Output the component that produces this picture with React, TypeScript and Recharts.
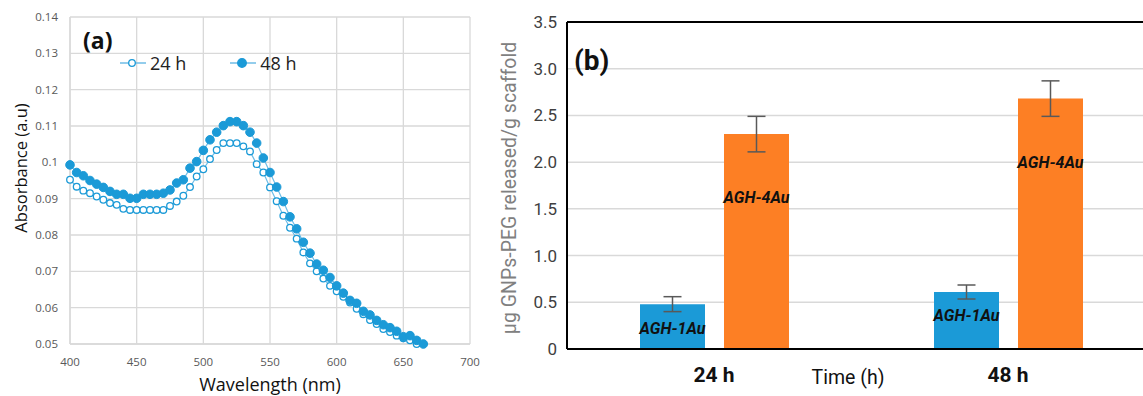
import React from 'react';
import {
  LineChart, Line, BarChart, Bar, XAxis, YAxis, CartesianGrid, Legend,
  ErrorBar, LabelList, ReferenceLine,
} from 'recharts';

// panel (a): UV-vis absorbance
const wavelengths = [
  400, 405, 410, 415, 420, 425, 430, 435, 440, 445,
  450, 455, 460, 465, 470, 475, 480, 485, 490, 495,
  500, 505, 510, 515, 520, 525, 530, 535, 540, 545,
  550, 555, 560, 565, 570, 575, 580, 585, 590, 595,
  600, 605, 610, 615, 620, 625, 630, 635, 640, 645,
  650, 655, 660, 665,
];
const abs24h = [
  0.0952, 0.0933, 0.0922, 0.0915, 0.0906, 0.0897, 0.0888, 0.0883, 0.0872, 0.0869,
  0.0869, 0.0869, 0.0869, 0.0869, 0.0869, 0.0880, 0.0892, 0.0908, 0.0932, 0.0961,
  0.0981, 0.1009, 0.1034, 0.1053, 0.1053, 0.1053, 0.1044, 0.1030, 0.0995, 0.0972,
  0.0931, 0.0893, 0.0853, 0.0820, 0.0790, 0.0752, 0.0722, 0.0700, 0.0680, 0.0660,
  0.0645, 0.0630, 0.0614, 0.0597, 0.0582, 0.0566, 0.0555, 0.0541, 0.0533, 0.0523,
  0.0516, 0.0510, 0.0500, null,
];
const abs48h = [
  0.0993, 0.0972, 0.0963, 0.0950, 0.0940, 0.0931, 0.0920, 0.0912, 0.0912, 0.0901,
  0.0901, 0.0912, 0.0912, 0.0912, 0.0915, 0.0924, 0.0943, 0.0952, 0.0984, 0.1002,
  0.1033, 0.1062, 0.1083, 0.1101, 0.1112, 0.1112, 0.1101, 0.1083, 0.1053, 0.1012,
  0.0972, 0.0932, 0.0892, 0.0850, 0.0817, 0.0780, 0.0750, 0.0720, 0.0703, 0.0683,
  0.0660, 0.0640, 0.0620, 0.0612, 0.0590, 0.0580, 0.0565, 0.0553, 0.0545, 0.0535,
  0.0520, 0.0523, 0.0510, 0.0500,
];
const wlTicks = [400, 450, 500, 550, 600, 650, 700];
const absTicks = [0.05, 0.06, 0.07, 0.08, 0.09, 0.1, 0.11, 0.12, 0.13, 0.14];

// panel (b): release per time point
const times = ['24 h', '48 h'];
const agh1 = [0.48, 0.61];
const agh1Err = [0.08, 0.075];
const agh4 = [2.30, 2.68];
const agh4Err = [0.19, 0.19];
const releaseTicks = [0, 0.5, 1.0, 1.5, 2.0, 2.5, 3.0, 3.5];

const BLUE = '#1b9ad7';
const ORANGE = '#fd7f24';
const GRID = '#d9d9d9';
const SANS = '"Open Sans", "Noto Sans", sans-serif';
const NARROW = 'Roboto, "Liberation Sans", sans-serif';

const spectrum = wavelengths.map((wl, i) => ({ wl, h24: abs24h[i], h48: abs48h[i] }));
const release = times.map((t, i) => ({
  time: t, agh1: agh1[i], err1: agh1Err[i], agh4: agh4[i], err4: agh4Err[i],
}));

const barLabelStyle = { fontFamily: NARROW, fontSize: 16, fontWeight: 700, fontStyle: 'italic' as const, fill: '#111' };

function SpectrumLegend() {
  const items = [
    { name: '24 h', filled: false },
    { name: '48 h', filled: true },
  ];
  return (
    <div style={{ display: 'flex', gap: 44, fontFamily: SANS, fontSize: 18, color: '#222' }}>
      {items.map((it) => (
        <div key={it.name} style={{ display: 'flex', alignItems: 'center' }}>
          <svg width={27} height={12}>
            <line x1={0} y1={6} x2={26} y2={6} stroke="#6fbde6" strokeWidth={1.5} />
            <circle cx={12} cy={6} r={it.filled ? 4.3 : 3.3} fill={it.filled ? BLUE : '#fff'} stroke={BLUE} strokeWidth={1.3} />
          </svg>
          <span style={{ marginLeft: 3 }}>{it.name}</span>
        </div>
      ))}
    </div>
  );
}

export default function App() {
  return (
    <div style={{ position: 'absolute', left: 0, top: 0, width: 1143, height: 396, overflow: 'hidden', background: '#fff' }}>
      <div style={{ position: 'absolute', left: 0, top: 0 }}>
        <LineChart width={480} height={396} data={spectrum} margin={{ top: 17, right: 10, left: 0, bottom: 0 }}>
          <CartesianGrid stroke={GRID} strokeWidth={1.3} />
          <XAxis
            dataKey="wl" type="number" domain={[400, 700]} ticks={wlTicks} height={52}
            axisLine={{ stroke: GRID, strokeWidth: 1.3 }} tickLine={false} tickMargin={8}
            tick={{ fontFamily: SANS, fontSize: 11.5, fill: '#595959' }}
            label={{
              content: () => (
                <text x={270} y={391} textAnchor="middle" fontFamily={SANS} fontSize={18} fill="#111">Wavelength (nm)</text>
              ),
            }}
          />
          <YAxis
            type="number" domain={[0.05, 0.14]} ticks={absTicks} width={70}
            axisLine={{ stroke: GRID, strokeWidth: 1.3 }} tickLine={false} tickMargin={6}
            tickFormatter={(v: number) => String(Number(v.toFixed(2)))}
            tick={{ fontFamily: SANS, fontSize: 11.5, fill: '#595959' }}
            label={{
              content: () => (
                <text x={27} y={168} transform="rotate(-90 27 168)" textAnchor="middle" fontFamily={SANS} fontSize={16.5} fill="#111">Absorbance (a.u)</text>
              ),
            }}
          />
          <Legend layout="horizontal" verticalAlign="middle" align="center" wrapperStyle={{ top: 51, left: 120, width: 'auto' }} content={() => <SpectrumLegend />} />
          <Line dataKey="h24" name="24 h" stroke="#6fbde6" strokeWidth={1.2}
            dot={{ r: 3.3, stroke: BLUE, strokeWidth: 1.3, fill: '#fff' }} isAnimationActive={false} />
          <Line dataKey="h48" name="48 h" stroke="#6fbde6" strokeWidth={1.2}
            dot={{ r: 4.3, stroke: BLUE, strokeWidth: 1, fill: BLUE }} isAnimationActive={false} />
        </LineChart>
      </div>
      <div style={{ position: 'absolute', left: 83, top: 24, fontFamily: SANS, fontWeight: 700, fontSize: 23, color: '#111' }}>(a)</div>

      <div style={{ position: 'absolute', left: 480, top: 0 }}>
        <BarChart width={700} height={396} data={release} barGap={19} margin={{ top: 22, right: 25, left: 0, bottom: 0 }}>
          <CartesianGrid vertical={false} stroke={GRID} strokeWidth={1.5} />
          <XAxis
            dataKey="time" height={47} axisLine={{ stroke: '#000', strokeWidth: 2 }} tickLine={false} tickMargin={12}
            tick={{ fontFamily: NARROW, fontSize: 21, fontWeight: 700, fill: '#111' }}
            label={{ value: 'Time (h)', position: 'insideBottom', offset: 12, dx: -13, fontFamily: NARROW, fontSize: 19.5, fill: '#111' }}
          />
          <YAxis
            type="number" domain={[0, 3.5]} ticks={releaseTicks} width={87}
            axisLine={{ stroke: '#000', strokeWidth: 2 }} tickLine={false} tickMargin={4}
            tickFormatter={(v: number) => (v === 0 ? '0' : v.toFixed(1))}
            tick={{ fontFamily: NARROW, fontSize: 17, fill: '#404040' }}
            label={{
              content: () => (
                <text x={36} y={188} transform="rotate(-90 36 188)" textAnchor="middle" fontFamily={NARROW} fontSize={19.5} fill="#808080">µg GNPs-PEG released/g scaffold</text>
              ),
            }}
          />
          <ReferenceLine y={3.5} stroke="#000" strokeWidth={2} />
          <Bar dataKey="agh1" fill={BLUE} barSize={65} isAnimationActive={false}>
            <ErrorBar dataKey="err1" width={9} stroke="#595959" strokeWidth={1.5} />
            <LabelList dataKey="agh1" position="insideTop" offset={18} formatter={() => 'AGH-1Au'} style={barLabelStyle} />
          </Bar>
          <Bar dataKey="agh4" fill={ORANGE} barSize={65} isAnimationActive={false}>
            <ErrorBar dataKey="err4" width={9} stroke="#595959" strokeWidth={1.5} />
            <LabelList dataKey="agh4" position="insideTop" offset={58} formatter={() => 'AGH-4Au'} style={barLabelStyle} />
          </Bar>
        </BarChart>
      </div>
      <div style={{ position: 'absolute', left: 574, top: 44, fontFamily: NARROW, fontWeight: 700, fontSize: 28, color: '#111' }}>(b)</div>
    </div>
  );
}
